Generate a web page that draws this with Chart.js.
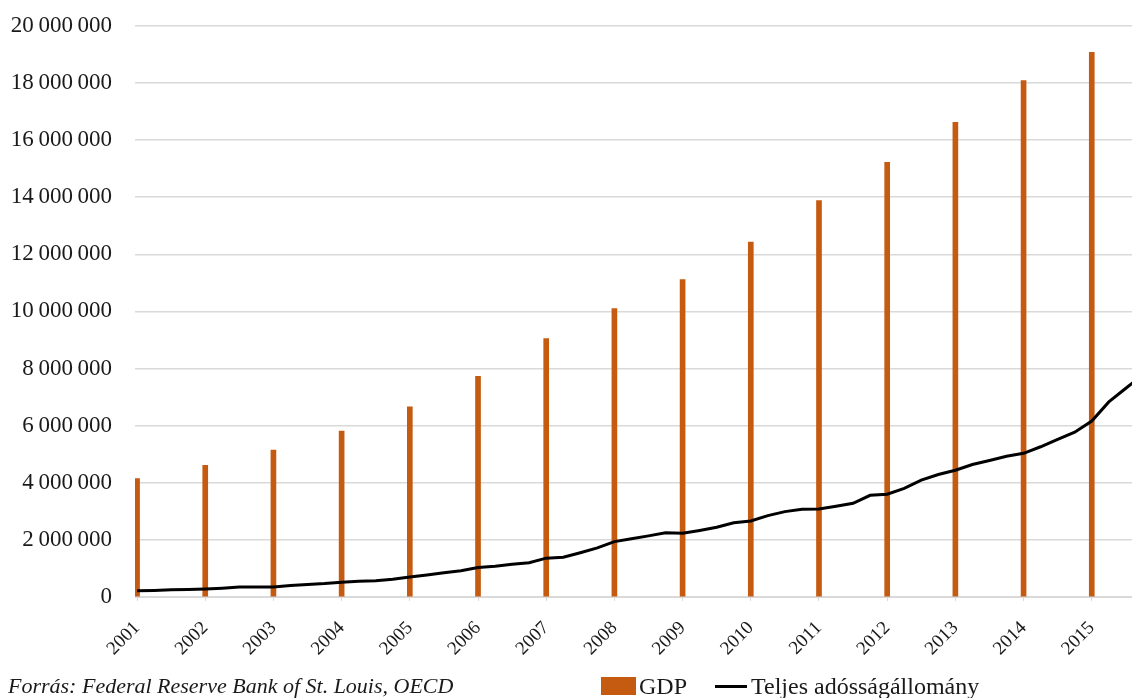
<!DOCTYPE html>
<html>
<head>
<meta charset="utf-8">
<script src="https://cdn.jsdelivr.net/npm/chart.js@4"></script>
<style>
  body { margin: 0; background: #fff; }
  #wrap { position: relative; width: 1132px; height: 698px; overflow: hidden; }
  #chart { position: absolute; left: 0; top: -11px; }
  #source { position: absolute; left: 8px; top: 673px; font: italic 22px "Liberation Serif", serif; color: #1a1a1a; white-space: nowrap; }
  #legend { position: absolute; left: 601px; top: 671px; font: 24px "Liberation Serif", serif; color: #1a1a1a; white-space: nowrap; }
  #legend span { display: inline-block; vertical-align: middle; }
  .box { width: 35px; height: 18px; background: #c55a11; margin-right: 3px; }
  .dash { width: 32px; height: 3px; background: #000; margin: 0 4px 0 28px; }
</style>
</head>
<body>
<div id="wrap">
  <canvas id="chart" width="1132" height="709"></canvas>
  <div id="source">Forrás: Federal Reserve Bank of St. Louis, OECD</div>
  <div id="legend"><span class="box"></span><span>GDP</span><span class="dash"></span><span>Teljes adósságállomány</span></div>
</div>
<script>
// years shown on the axis, GDP only for those years
const years = [2001, 2002, 2003, 2004, 2005, 2006, 2007, 2008, 2009, 2010, 2011, 2012, 2013, 2014, 2015];
const gdp = [4150000, 4610000, 5140000, 5810000, 6660000, 7730000, 9050000, 10100000, 11110000, 12430000, 13880000, 15220000, 16620000, 18080000, 19070000];

// quarterly debt stock, Q1..Q4 for each year
const debtQ = [
  [220000, 230000, 250000, 260000],
  [280000, 310000, 350000, 350000],
  [350000, 400000, 440000, 470000],
  [520000, 550000, 570000, 620000],
  [700000, 770000, 850000, 920000],
  [1030000, 1080000, 1150000, 1200000],
  [1360000, 1390000, 1550000, 1720000],
  [1940000, 2040000, 2140000, 2250000],
  [2230000, 2330000, 2440000, 2600000],
  [2660000, 2850000, 2990000, 3070000],
  [3080000, 3180000, 3280000, 3560000],
  [3600000, 3800000, 4090000, 4290000],
  [4440000, 4640000, 4780000, 4930000],
  [5030000, 5260000, 5520000, 5770000],
  [6160000, 6830000, 7310000, 7780000]
];

const gdpPoints = years.map((y, i) => ({ x: y, y: gdp[i] }));
const debtPoints = [];
years.forEach((y, i) => {
  debtQ[i].forEach((v, q) => debtPoints.push({ x: y + q / 4, y: v }));
});

function fmt(v) {
  return String(v).replace(/\B(?=(\d{3})+(?!\d))/g, '\u2009');
}

const gridColor = '#d9d9d9';

new Chart(document.getElementById('chart'), {
  type: 'bar',
  data: {
    datasets: [
      {
        type: 'line',
        label: 'Teljes adósságállomány',
        data: debtPoints,
        borderColor: '#000',
        borderWidth: 3,
        pointRadius: 0,
        tension: 0,
        order: 0
      },
      {
        label: 'GDP',
        data: gdpPoints,
        backgroundColor: '#c55a11',
        barThickness: 5,
        order: 1
      }
    ]
  },
  options: {
    responsive: false,
    animation: false,
    layout: { padding: { top: 14, right: 0, bottom: 41, left: 0 } },
    plugins: {
      legend: { display: false },
      tooltip: { enabled: false }
    },
    scales: {
      x: {
        type: 'linear',
        offset: false,
        min: 2000.97,
        max: 2015.59,
        afterBuildTicks: (scale) => { scale.ticks = years.map(v => ({ value: v })); },
        afterFit: (scale) => { scale.height = 60; },
        grid: { offset: false, drawOnChartArea: false, drawTicks: true, tickLength: 4, color: gridColor },
        border: { color: gridColor, width: 1 },
        ticks: {
          autoSkip: false,
          minRotation: 45,
          maxRotation: 45,
          padding: 16,
          color: '#1a1a1a',
          font: { family: '"Liberation Serif", serif', size: 19 },
          callback: (v) => String(v)
        }
      },
      y: {
        min: 0,
        max: 20000000,
        afterFit: (scale) => { scale.width = 135; },
        grid: { color: gridColor, lineWidth: 1.5, drawTicks: false },
        border: { display: false },
        ticks: {
          stepSize: 2000000,
          padding: 23,
          color: '#1a1a1a',
          font: { family: '"Liberation Serif", serif', size: 23 },
          callback: (v) => fmt(v)
        }
      }
    }
  }
});
</script>
</body>
</html>
